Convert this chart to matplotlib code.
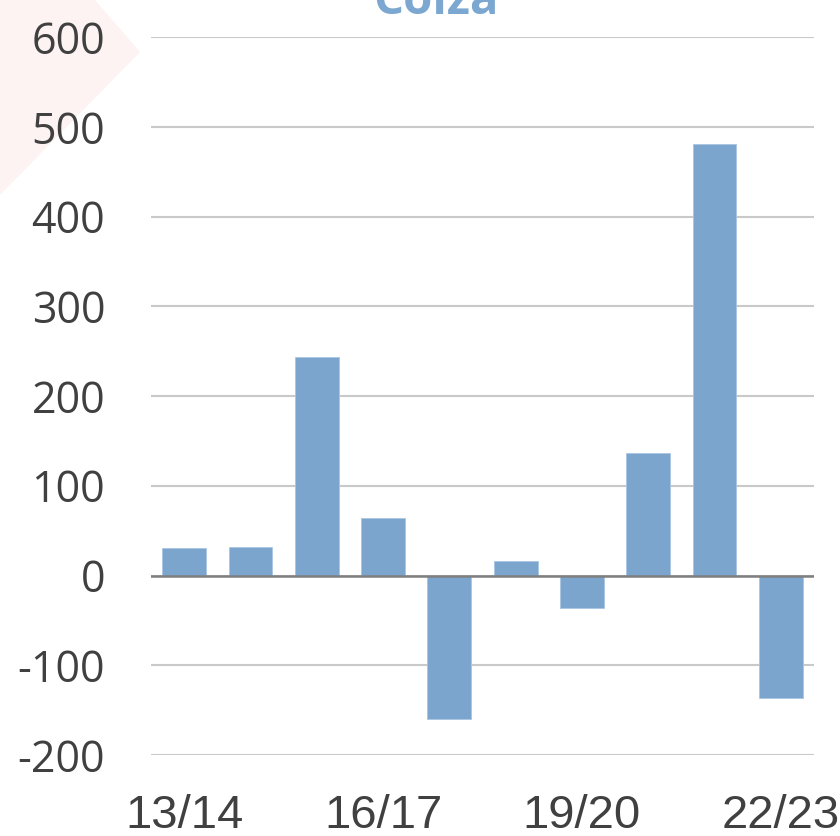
import matplotlib
matplotlib.use("Agg")
import matplotlib.pyplot as plt
from matplotlib.patches import Polygon

# campaign years and yearly change for rapeseed (colza)
seasons = ["13/14", "14/15", "15/16", "16/17", "17/18",
           "18/19", "19/20", "20/21", "21/22", "22/23"]
change = [31, 32, 243, 64, -160, 16, -36, 136, 481, -136]
yticks = [-200, -100, 0, 100, 200, 300, 400, 500, 600]

BAR = "#7BA5CD"
TEXT = "#404040"

fig = plt.figure(figsize=(8.4, 8.36), dpi=100)

# faint pink decoration in the top-left corner, behind everything
fig.patches.append(Polygon([(0, 1), (95 / 840, 1), (140 / 840, 1 - 52 / 836),
                            (0, 1 - 195 / 836)], closed=True,
                           transform=fig.transFigure, facecolor="#FDF3F3",
                           edgecolor="none", zorder=-5))

ax = fig.add_axes([151 / 840, 1 - 755 / 836, 663 / 840, 718 / 836])
ax.patch.set_alpha(0)

x = range(len(seasons))
ax.bar(x, change, width=0.66, color=BAR, edgecolor="#A9C6E3", linewidth=0.6, zorder=3)

ax.set_xlim(-0.5, len(seasons) - 0.5)
ax.set_ylim(-200, 600)
ax.set_yticks(yticks)
ax.set_yticklabels([str(v) for v in yticks], fontsize=31,
                   family=["Open Sans", "DejaVu Sans"], color=TEXT)
ax.set_xticks(list(x)[::3])
ax.set_xticklabels(seasons[::3], fontsize=34,
                   family=["Liberation Sans", "DejaVu Sans"], color=TEXT)
ax.tick_params(axis="y", length=0, pad=33)
ax.tick_params(axis="x", length=0, pad=28)

ax.grid(axis="y", color="#C9C9C9", linewidth=1.5, zorder=0)
ax.axhline(0, color="#7F7F7F", linewidth=1.8, zorder=4)
for side in ax.spines.values():
    side.set_visible(False)

fig.text(436 / 840, 1 - 14 / 836, "Colza", ha="center", va="baseline",
         fontsize=34, fontweight="bold", color="#7BA7D0",
         family=["Open Sans", "DejaVu Sans"])

fig.savefig("out.png", dpi=100)
